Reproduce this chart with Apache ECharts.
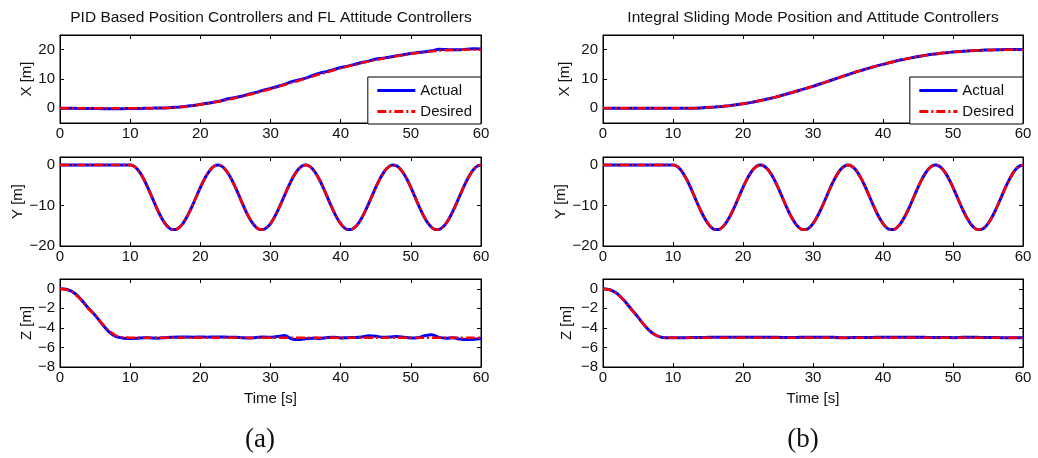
<!DOCTYPE html>
<html><head><meta charset="utf-8">
<script src="https://cdn.jsdelivr.net/npm/echarts@6/dist/echarts.min.js"></script>
<style>html,body{margin:0;padding:0;background:#fff}#c{width:1038px;height:458px}</style>
</head><body><div id="c"></div>
<script>
const time = [0,1,2,3,4,5,6,7,8,9,10,11,12,13,14,15,16,17,18,19,20,21,22,23,24,25,26,27,28,29,30,31,32,33,34,35,36,37,38,39,40,41,42,43,44,45,46,47,48,49,50,51,52,53,54,55,56,57,58,59,60];
const timeY = [0,0.5,1,1.5,2,2.5,3,3.5,4,4.5,5,5.5,6,6.5,7,7.5,8,8.5,9,9.5,10,10.5,11,11.5,12,12.5,13,13.5,14,14.5,15,15.5,16,16.5,17,17.5,18,18.5,19,19.5,20,20.5,21,21.5,22,22.5,23,23.5,24,24.5,25,25.5,26,26.5,27,27.5,28,28.5,29,29.5,30,30.5,31,31.5,32,32.5,33,33.5,34,34.5,35,35.5,36,36.5,37,37.5,38,38.5,39,39.5,40,40.5,41,41.5,42,42.5,43,43.5,44,44.5,45,45.5,46,46.5,47,47.5,48,48.5,49,49.5,50,50.5,51,51.5,52,52.5,53,53.5,54,54.5,55,55.5,56,56.5,57,57.5,58,58.5,59,59.5,60];
const titles = ['PID Based Position Controllers and FL Attitude Controllers','Integral Sliding Mode Position and Attitude Controllers'];
const panelLabels = ['(a)','(b)'];
const rowNames = ['X [m]','Y [m]','Z [m]'];
const rowTicks = [[0,10,20],[-20,-10,0],[-8,-6,-4,-2,0]];
const rowRange = [[-5,25],[-20,2],[-8,1]];

// Panel (a)
const xDesA = [0,0,0,0,0,0,0,0,0,0,0,0,0,0.02,0.05,0.1,0.2,0.4,0.65,0.95,1.3,1.65,2.05,2.5,3.0,3.55,4.1,4.7,5.3,5.95,6.6,7.3,8.0,8.7,9.4,10.2,10.9,11.6,12.3,13.0,13.7,14.3,14.9,15.5,16.0,16.5,17.0,17.4,17.8,18.2,18.6,18.9,19.2,19.45,19.65,19.8,19.9,19.95,20,20,20];
const xActA = [0,0,0,-0.05,-0.05,-0.05,-0.1,-0.1,-0.1,-0.1,-0.05,-0.05,0,0.05,0.1,0.15,0.25,0.45,0.7,1.0,1.35,1.7,2.15,2.6,3.25,3.7,4.2,4.9,5.45,6.2,6.8,7.45,8.15,9.1,9.7,10.3,11.2,12.0,12.5,13.2,13.9,14.4,15.0,15.6,16.1,16.8,17.1,17.5,17.9,18.3,18.7,19.0,19.3,19.6,20.15,20.05,19.95,20.0,20.15,20.3,20.25];
const yDesA = [0,0,0,0,0,0,0,0,0,0,0,0,0,0,0,0,0,0,0,0,
  0,-0.25,-0.99,-2.17,-3.71,-5.53,-7.5,-9.5,-11.41,-13.1,-14.47,-15.44,-15.94,-15.94,-15.44,-14.47,-13.1,-11.41,-9.5,-7.5,-5.53,-3.71,-2.17,-0.99,-0.25,
  0,-0.25,-0.99,-2.17,-3.71,-5.53,-7.5,-9.5,-11.41,-13.1,-14.47,-15.44,-15.94,-15.94,-15.44,-14.47,-13.1,-11.41,-9.5,-7.5,-5.53,-3.71,-2.17,-0.99,-0.25,
  0,-0.25,-0.99,-2.17,-3.71,-5.53,-7.5,-9.5,-11.41,-13.1,-14.47,-15.44,-15.94,-15.94,-15.44,-14.47,-13.1,-11.41,-9.5,-7.5,-5.53,-3.71,-2.17,-0.99,-0.25,
  0,-0.25,-0.99,-2.17,-3.71,-5.53,-7.5,-9.5,-11.41,-13.1,-14.47,-15.44,-15.94,-15.94,-15.44,-14.47,-13.1,-11.41,-9.5,-7.5,-5.53,-3.71,-2.17,-0.99,-0.25,
  0];
const yActA = [0,0,0,0,0,0,0,0,0,0,0,0,0,0,0,0,0,0,0,0,
  0,-0.22,-0.95,-2.12,-3.68,-5.5,-7.48,-9.5,-11.42,-13.12,-14.5,-15.46,-15.95,-15.93,-15.42,-14.45,-13.08,-11.4,-9.5,-7.52,-5.55,-3.74,-2.2,-1.0,-0.24,
  0.02,-0.22,-0.97,-2.15,-3.7,-5.52,-7.5,-9.52,-11.43,-13.12,-14.49,-15.45,-15.95,-15.93,-15.42,-14.45,-13.08,-11.4,-9.49,-7.5,-5.53,-3.72,-2.18,-0.99,-0.24,
  0.02,-0.23,-0.97,-2.15,-3.7,-5.52,-7.5,-9.52,-11.43,-13.12,-14.49,-15.45,-15.95,-15.93,-15.42,-14.45,-13.08,-11.4,-9.49,-7.5,-5.53,-3.72,-2.18,-0.99,-0.24,
  0.02,-0.23,-0.97,-2.15,-3.7,-5.52,-7.5,-9.52,-11.43,-13.12,-14.49,-15.45,-15.95,-15.93,-15.42,-14.45,-13.08,-11.4,-9.49,-7.5,-5.53,-3.72,-2.18,-0.99,-0.24,
  0];
const zDesA = [0,-0.1,-0.45,-1.15,-2.0,-2.7,-3.55,-4.3,-4.8,-4.97,-5,-5,-5,-5,-5,-5,-5,-5,-5,-5,-5,-5,-5,-5,-5,-5,-5,-5,-5,-5,-5,-5,-5,-5,-5,-5,-5,-5,-5,-5,-5,-5,-5,-5,-5,-5,-5,-5,-5,-5,-5,-5,-5,-5,-5,-5,-5,-5,-5,-5,-5];
const zActA = [0,-0.08,-0.4,-1.1,-1.95,-2.7,-3.6,-4.4,-4.9,-5.05,-5.08,-5.05,-5.0,-5.03,-5.05,-5.0,-4.95,-4.92,-4.93,-4.95,-4.93,-4.95,-4.92,-4.93,-4.95,-4.95,-5.0,-5.03,-4.98,-4.93,-4.97,-4.88,-4.78,-5.12,-5.2,-5.1,-5.05,-5.08,-5.0,-4.95,-5.03,-5.0,-4.98,-4.93,-4.8,-4.85,-4.95,-4.93,-4.88,-4.95,-5.03,-5.0,-4.8,-4.7,-4.97,-5.05,-5.0,-5.15,-5.2,-5.17,-5.08];

// Panel (b)
const xDesB = [0,0,0,0,0,0,0,0,0,0,0,0.01,0.03,0.07,0.15,0.3,0.45,0.65,0.9,1.2,1.55,1.95,2.4,2.9,3.45,4.05,4.7,5.4,6.1,6.8,7.5,8.3,9.1,9.9,10.7,11.5,12.3,13.0,13.7,14.4,15.0,15.6,16.2,16.7,17.2,17.65,18.05,18.4,18.7,18.95,19.2,19.4,19.55,19.7,19.8,19.88,19.93,19.97,20,20,20];
const xActB = [0,0,0,0,0,0,0,0,0,0,0,0.01,0.03,0.07,0.15,0.3,0.45,0.65,0.9,1.2,1.55,1.95,2.4,2.9,3.45,4.05,4.7,5.4,6.1,6.8,7.5,8.3,9.1,9.9,10.7,11.5,12.3,13.0,13.7,14.4,15.0,15.6,16.2,16.7,17.2,17.65,18.05,18.4,18.7,18.95,19.2,19.4,19.55,19.7,19.8,19.9,19.95,20,20.05,20.05,20.05];
const yDesB = [0,0,0,0,0,0,0,0,0,0,0,0,0,0,0,0,0,0,0,0,
  0,-0.25,-0.99,-2.17,-3.71,-5.53,-7.5,-9.5,-11.41,-13.1,-14.47,-15.44,-15.94,-15.94,-15.44,-14.47,-13.1,-11.41,-9.5,-7.5,-5.53,-3.71,-2.17,-0.99,-0.25,
  0,-0.25,-0.99,-2.17,-3.71,-5.53,-7.5,-9.5,-11.41,-13.1,-14.47,-15.44,-15.94,-15.94,-15.44,-14.47,-13.1,-11.41,-9.5,-7.5,-5.53,-3.71,-2.17,-0.99,-0.25,
  0,-0.25,-0.99,-2.17,-3.71,-5.53,-7.5,-9.5,-11.41,-13.1,-14.47,-15.44,-15.94,-15.94,-15.44,-14.47,-13.1,-11.41,-9.5,-7.5,-5.53,-3.71,-2.17,-0.99,-0.25,
  0,-0.25,-0.99,-2.17,-3.71,-5.53,-7.5,-9.5,-11.41,-13.1,-14.47,-15.44,-15.94,-15.94,-15.44,-14.47,-13.1,-11.41,-9.5,-7.5,-5.53,-3.71,-2.17,-0.99,-0.25,
  0];
const yActB = [0,0,0,0,0,0,0,0,0,0,0,0,0,0,0,0,0,0,0,0,
  0,-0.24,-0.98,-2.16,-3.7,-5.52,-7.5,-9.5,-11.41,-13.1,-14.48,-15.45,-15.94,-15.94,-15.44,-14.47,-13.1,-11.41,-9.5,-7.5,-5.53,-3.71,-2.17,-0.99,-0.25,
  0,-0.25,-0.99,-2.17,-3.71,-5.53,-7.5,-9.5,-11.41,-13.1,-14.47,-15.44,-15.94,-15.94,-15.44,-14.47,-13.1,-11.41,-9.5,-7.5,-5.53,-3.71,-2.17,-0.99,-0.25,
  0,-0.25,-0.99,-2.17,-3.71,-5.53,-7.5,-9.5,-11.41,-13.1,-14.47,-15.44,-15.94,-15.94,-15.44,-14.47,-13.1,-11.41,-9.5,-7.5,-5.53,-3.71,-2.17,-0.99,-0.25,
  0,-0.25,-0.99,-2.17,-3.71,-5.53,-7.5,-9.5,-11.41,-13.1,-14.47,-15.44,-15.94,-15.94,-15.44,-14.47,-13.1,-11.41,-9.5,-7.5,-5.53,-3.71,-2.17,-0.99,-0.25,
  0];
const zDesB = [0,-0.12,-0.5,-1.2,-2.1,-2.9,-3.8,-4.5,-4.9,-5.0,-5,-5,-5,-5,-5,-5,-5,-5,-5,-5,-5,-5,-5,-5,-5,-5,-5,-5,-5,-5,-5,-5,-5,-5,-5,-5,-5,-5,-5,-5,-5,-5,-5,-5,-5,-5,-5,-5,-5,-5,-5,-5,-5,-5,-5,-5,-5,-5,-5,-5,-5];
const zActB = [0,-0.1,-0.48,-1.18,-2.05,-2.9,-3.8,-4.5,-4.9,-5.02,-5.02,-5.0,-5.0,-4.98,-4.98,-4.97,-4.96,-4.95,-4.96,-4.97,-4.97,-4.96,-4.96,-4.97,-4.97,-4.97,-4.98,-4.98,-4.97,-4.96,-4.96,-4.95,-4.95,-4.97,-5.0,-5.0,-4.99,-4.98,-4.98,-4.97,-4.97,-4.97,-4.97,-4.96,-4.95,-4.96,-4.97,-4.98,-4.98,-4.98,-5.0,-4.98,-4.95,-4.96,-4.98,-4.98,-4.99,-5.0,-5.0,-5.0,-5.0];

const panels = [
  {left: 60, right: 557, titleX: 271, labelX: 260, rows: [[time, xActA, xDesA],[timeY, yActA, yDesA],[time, zActA, zDesA]], nameGaps: [26, 35, 26]},
  {left: 603, right: 15, titleX: 813, labelX: 803, rows: [[time, xActB, xDesB],[timeY, yActB, yDesB],[time, zActB, zDesB]], nameGaps: [31, 35, 29]}
];
const rowTops = [35, 157, 279];
const rowHeights = [88, 89, 88];

const FONT = 'Liberation Sans';
const INK = '#111';
const minus = v => String(v).replace('-', '\u2212');

const grid = [], xAxis = [], yAxis = [], series = [];
panels.forEach((p, pi) => {
  p.rows.forEach((row, ri) => {
    const gi = grid.length;
    grid.push({left: p.left, right: p.right, top: rowTops[ri], height: rowHeights[ri], show: true, borderColor: '#000', borderWidth: 1, backgroundColor: '#fff'});
    const xi = xAxis.length;
    xAxis.push({type: 'value', gridIndex: gi, position: 'bottom', min: 0, max: 60, interval: 10,
      axisLine: {show: true, onZero: false, lineStyle: {color: '#000', width: 1}},
      axisTick: {show: true, inside: true, length: 4, lineStyle: {color: '#000'}},
      axisLabel: {show: true, color: INK, fontFamily: FONT, fontSize: 15, margin: 3},
      splitLine: {show: false},
      name: ri === 2 ? 'Time [s]' : '', nameLocation: 'middle', nameGap: 24,
      nameTextStyle: {color: INK, fontFamily: FONT, fontSize: 15}});
    xAxis.push({type: 'value', gridIndex: gi, position: 'top', min: 0, max: 60, interval: 10,
      axisLine: {show: true, onZero: false, lineStyle: {color: '#000', width: 1}},
      axisTick: {show: true, inside: true, length: 4, lineStyle: {color: '#000'}},
      axisLabel: {show: false}, splitLine: {show: false}});
    const yi = yAxis.length;
    const [mn, mx] = rowRange[ri];
    yAxis.push({type: 'value', gridIndex: gi, position: 'left', min: mn, max: mx,
      axisLine: {show: true, onZero: false, lineStyle: {color: '#000', width: 1}},
      axisTick: {show: true, inside: true, length: 4, lineStyle: {color: '#000'}, customValues: rowTicks[ri]},
      axisLabel: {show: true, color: INK, fontFamily: FONT, fontSize: 15, margin: 5, customValues: rowTicks[ri], formatter: minus},
      splitLine: {show: false},
      name: rowNames[ri], nameLocation: 'middle', nameGap: p.nameGaps[ri], nameRotate: 90,
      nameTextStyle: {color: INK, fontFamily: FONT, fontSize: 15}});
    yAxis.push({type: 'value', gridIndex: gi, position: 'right', min: mn, max: mx,
      axisLine: {show: true, onZero: false, lineStyle: {color: '#000', width: 1}},
      axisTick: {show: true, inside: true, length: 4, lineStyle: {color: '#000'}, customValues: rowTicks[ri]},
      axisLabel: {show: false}, splitLine: {show: false}});
    const [tt, act, des] = row;
    series.push({name: 'Actual', type: 'line', xAxisIndex: xi, yAxisIndex: yi, smooth: 0.3, symbol: 'none', showSymbol: false,
      data: tt.map((t, i) => [t, act[i]]), lineStyle: {color: '#0000ff', width: 3}, itemStyle: {color: '#0000ff'}, z: 2});
    series.push({name: 'Desired', type: 'line', xAxisIndex: xi, yAxisIndex: yi, smooth: 0.3, symbol: 'none', showSymbol: false,
      data: tt.map((t, i) => [t, des[i]]), lineStyle: {color: '#ff0000', width: 2.5, type: [9, 3, 2, 3]}, itemStyle: {color: '#ff0000'}, z: 3});
  });
});

const legend = panels.map(p => ({
  data: ['Actual', 'Desired'], orient: 'vertical', right: p.right, top: 77,
  backgroundColor: '#fff', borderColor: '#000', borderWidth: 1, padding: [6, 9, 5, 8],
  itemWidth: 38, itemHeight: 14, itemGap: 6, selectedMode: false,
  itemStyle: {opacity: 0, borderWidth: 0},
  lineStyle: {width: 3},
  textStyle: {color: INK, fontFamily: FONT, fontSize: 15}
}));

const graphic = [];
panels.forEach((p, pi) => {
  graphic.push({type: 'text', x: p.titleX, y: 18, style: {text: titles[pi], fill: INK, font: '15.5px "Liberation Sans"', textAlign: 'center', textVerticalAlign: 'middle'}});
  graphic.push({type: 'text', x: p.labelX, y: 440, style: {text: panelLabels[pi], fill: INK, font: '27px "Liberation Serif"', textAlign: 'center', textVerticalAlign: 'middle'}});
});

const chart = echarts.init(document.getElementById('c'), null, {renderer: 'canvas'});
chart.setOption({animation: false, backgroundColor: '#fff', grid, xAxis, yAxis, series, legend, graphic});
</script></body></html>
